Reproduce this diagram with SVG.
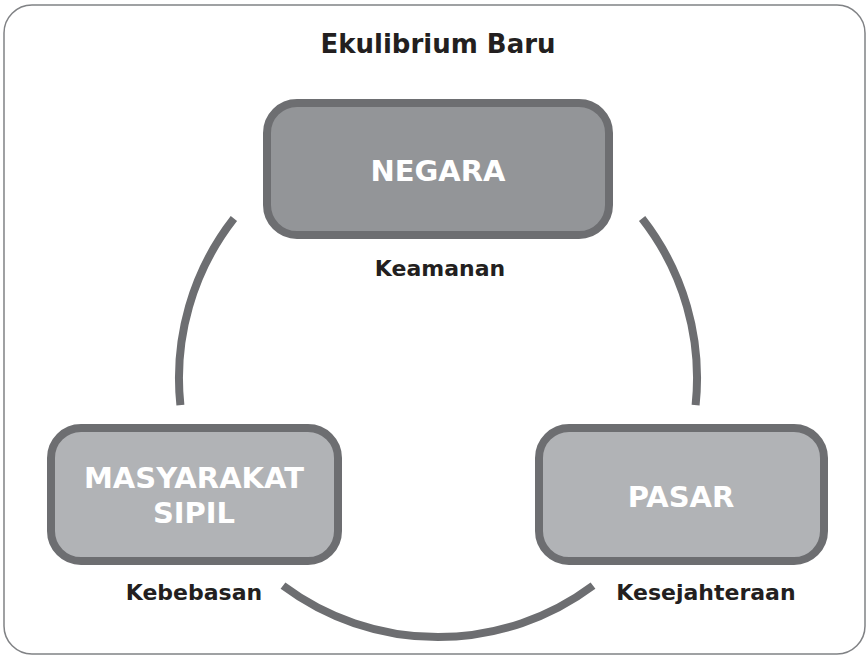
<svg xmlns="http://www.w3.org/2000/svg" width="868" height="657" viewBox="0 0 868 657">
<style>
.frame{fill:#ffffff;stroke:#808285;stroke-width:1.5}
.box{stroke:#6d6e71;stroke-width:8}
.dark{fill:#939598}
.light{fill:#b1b3b6}
.ntext{font-family:"DejaVu Sans","Liberation Sans",sans-serif;font-weight:bold;font-size:29px;fill:#ffffff;text-anchor:middle}
.label{font-family:"DejaVu Sans","Liberation Sans",sans-serif;font-weight:bold;font-size:22px;fill:#231f20;text-anchor:middle}
.title{font-family:"DejaVu Sans","Liberation Sans",sans-serif;font-weight:bold;font-size:26px;fill:#231f20;text-anchor:middle}
.arc{fill:none;stroke:#6d6e71;stroke-width:8;stroke-linecap:butt}
</style>
<rect class="frame" x="4" y="5" width="861" height="649" rx="28" ry="28"/>
<text class="title" x="438" y="53">Ekulibrium Baru</text>
<g id="connectors">
<path class="arc" d="M 233.9 218.5 A 259 259 0 0 0 180.4 405.1"/>
<path class="arc" d="M 642.1 218.5 A 259 259 0 0 1 695.6 405.1"/>
<path class="arc" d="M 283 585.6 A 259 259 0 0 0 593 585.6"/>
</g>
<g id="negara">
<rect class="box dark" x="267" y="103" width="342" height="132" rx="30" ry="30"/>
<text class="ntext" x="438" y="181">NEGARA</text>
<text class="label" x="440" y="276">Keamanan</text>
</g>
<g id="masyarakat-sipil">
<rect class="box light" x="51" y="428" width="287" height="133" rx="30" ry="30"/>
<text class="ntext" x="194" y="488">MASYARAKAT</text>
<text class="ntext" x="194" y="523">SIPIL</text>
<text class="label" x="194" y="600">Kebebasan</text>
</g>
<g id="pasar">
<rect class="box light" x="539" y="428" width="285" height="133" rx="30" ry="30"/>
<text class="ntext" x="681" y="507">PASAR</text>
<text class="label" x="706" y="600">Kesejahteraan</text>
</g>
</svg>
